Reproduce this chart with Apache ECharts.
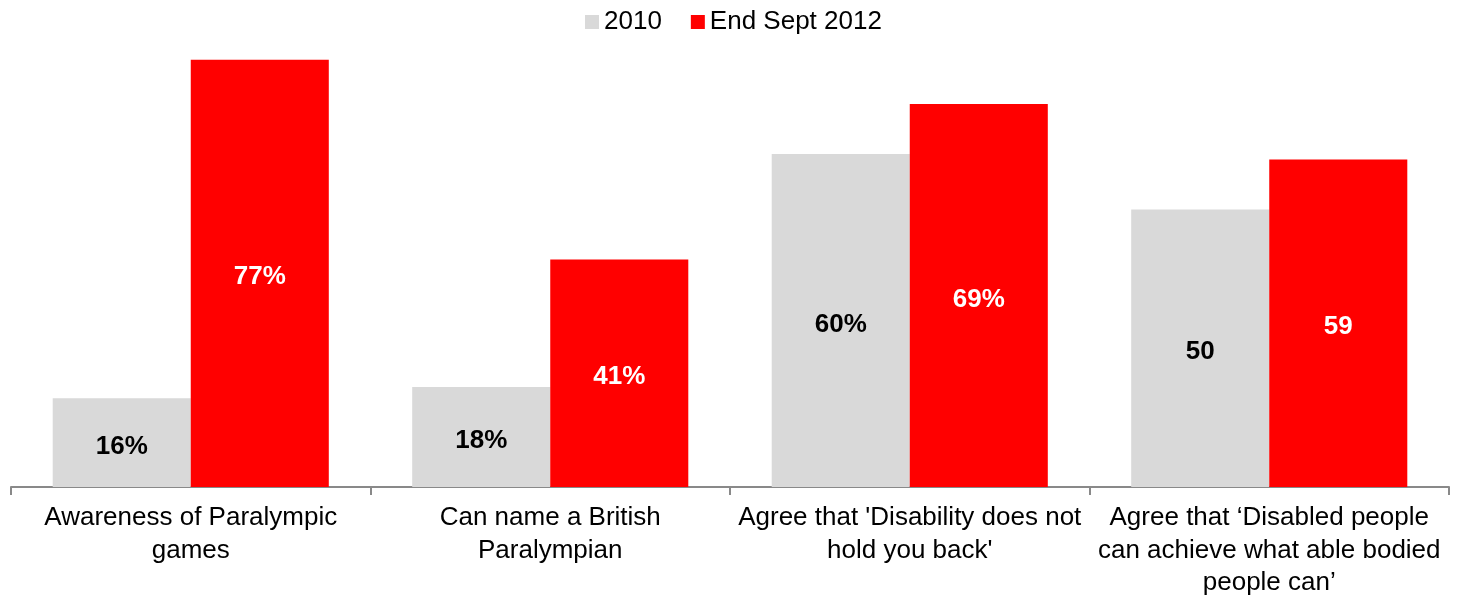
<!DOCTYPE html>
<html>
<head>
<meta charset="utf-8">
<script src="https://cdn.jsdelivr.net/npm/echarts@6/dist/echarts.min.js"></script>
<style>html,body{margin:0;padding:0;background:#fff}#c{width:1459px;height:595px}</style>
</head>
<body>
<div id="c"></div>
<script>
const categories = [
  "Awareness of Paralympic\ngames",
  "Can name a British\nParalympian",
  "Agree that 'Disability does not\nhold you back'",
  "Agree that \u2018Disabled people\ncan achieve what able bodied\npeople can\u2019"
];
const seriesNames = ["2010", "End Sept 2012"];
const values2010 = [16, 18, 60, 50];
const values2012 = [77, 41, 69, 59];
const labels2010 = ["16%", "18%", "60%", "50"];
const labels2012 = ["77%", "41%", "69%", "59"];

const chart = echarts.init(document.getElementById('c'), null, {renderer: 'canvas'});
const FONT = '"Liberation Sans", Arial, sans-serif';
chart.setOption({
  animation: false,
  textStyle: {fontFamily: FONT},
  legend: {
    top: 4, left: 580,
    itemWidth: 14, itemHeight: 14, itemGap: 29,
    icon: 'rect',
    textStyle: {fontSize: 26, color: '#000', fontFamily: FONT},
    data: seriesNames
  },
  grid: {left: 11, right: 10, top: 43, bottom: 108, containLabel: false, outerBoundsMode: 'none'},
  xAxis: {
    type: 'category',
    data: categories,
    axisLine: {lineStyle: {color: '#898989', width: 2}},
    axisTick: {show: true, length: 8, lineStyle: {color: '#898989', width: 2}},
    axisLabel: {fontSize: 26, color: '#000', lineHeight: 32.5, margin: 15, interval: 0, fontFamily: FONT}
  },
  yAxis: {type: 'value', min: 0, max: 80, show: false, splitLine: {show: false}},
  series: [
    {
      name: seriesNames[0], type: 'bar', data: values2010,
      barGap: '0%', barCategoryGap: '23.2%',
      itemStyle: {color: '#d9d9d9'},
      label: {show: true, position: 'inside', offset: [0, 4], fontSize: 26, fontWeight: 'bold', color: '#000', fontFamily: FONT,
        formatter: p => labels2010[p.dataIndex]}
    },
    {
      name: seriesNames[1], type: 'bar', data: values2012,
      barGap: '0%', barCategoryGap: '23.2%',
      itemStyle: {color: '#ff0000'},
      label: {show: true, position: 'inside', offset: [0, 4], fontSize: 26, fontWeight: 'bold', color: '#fff', fontFamily: FONT,
        formatter: p => labels2012[p.dataIndex]}
    }
  ]
});
</script>
</body>
</html>
